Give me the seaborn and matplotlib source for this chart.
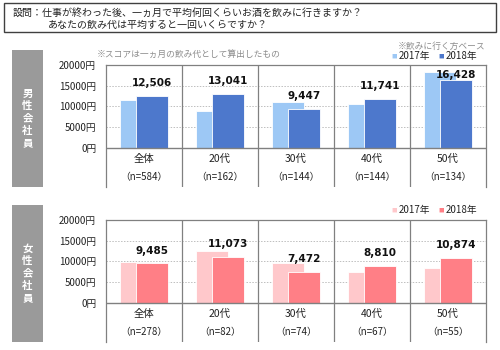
import matplotlib
matplotlib.use("Agg")
import matplotlib.pyplot as plt
import seaborn as sns
import pandas as pd
import numpy as np
from matplotlib.patches import Rectangle

sns.set_theme(style="white")
plt.rcParams['font.family'] = ['Noto Sans CJK JP', 'DejaVu Sans']

categories = ["全体", "20代", "30代", "40代", "50代"]
male_n = ["（n=584）", "（n=162）", "（n=144）", "（n=144）", "（n=134）"]
female_n = ["（n=278）", "（n=82）", "（n=74）", "（n=67）", "（n=55）"]
male_2017 = [11600, 8950, 11100, 10640, 18300]
male_2018 = [12506, 13041, 9447, 11741, 16428]
female_2017 = [9800, 12400, 9560, 7450, 8330]
female_2018 = [9485, 11073, 7472, 8810, 10874]
yticks = [0, 5000, 10000, 15000, 20000]
ytick_labels = ["0円", "5000円", "10000円", "15000円", "20000円"]

W, H = 500, 350
fig = plt.figure(figsize=(5, 3.5), dpi=100)

def fx(px):
    return px / W

def fy(py):
    return 1 - py / H

# Title box
fig.patches.append(Rectangle((fx(4), fy(32)), fx(492), 29 / H, transform=fig.transFigure,
                             fill=False, edgecolor="#404040", linewidth=1.0))
fig.text(fx(13), fy(13), "設問：仕事が終わった後、一ヵ月で平均何回くらいお酒を飲みに行きますか？",
         fontsize=7.2, va="center", ha="left", color="#222222")
fig.text(fx(48), fy(24.5), "あなたの飲み代は平均すると一回いくらですか？",
         fontsize=7.2, va="center", ha="left", color="#222222")

BAR_W = 0.42
OFF = 0.105


def panel(top_px, bottom_px, c17, c18, v17, v18, nlabels, side_label, legend_y):
    ax = fig.add_axes([fx(106), fy(bottom_px), fx(486) - fx(106), (bottom_px - top_px) / H])
    pos = np.arange(len(categories))
    df17 = pd.DataFrame({"x": pos - OFF, "v": v17})
    df18 = pd.DataFrame({"x": pos + OFF, "v": v18})
    sns.barplot(data=df17, x="x", y="v", native_scale=True, width=BAR_W, color=c17,
                saturation=1, edgecolor="white", linewidth=0.6, ax=ax, zorder=3)
    sns.barplot(data=df18, x="x", y="v", native_scale=True, width=BAR_W, color=c18,
                saturation=1, edgecolor="white", linewidth=0.6, ax=ax, zorder=4)
    ax.set_xlim(-0.5, 4.5)
    ax.set_ylim(-9500, 20000)
    ax.set_xlabel("")
    ax.set_ylabel("")
    ax.set_xticks([])
    ax.set_yticks(yticks)
    ax.set_yticklabels(ytick_labels, fontsize=7, color="#222222")
    ax.tick_params(axis="y", length=0, pad=7)
    for s in ["left", "right", "top"]:
        ax.spines[s].set_color("#808080")
        ax.spines[s].set_linewidth(0.9)
    ax.spines["bottom"].set_visible(False)
    for g in [5000, 10000, 15000]:
        ax.axhline(g, color="#BFBFBF", linestyle=(0, (1.5, 1.5)), linewidth=0.7, zorder=1)
    ax.axhline(0, color="#808080", linewidth=1.0, zorder=5)
    for xv in [0.5, 1.5, 2.5, 3.5]:
        ax.axvline(xv, color="#808080", linewidth=0.9, zorder=2)
    for i, v in enumerate(v18):
        ly = min(v + 3100, 17600)
        ax.text(i + OFF, ly, f"{v:,}", ha="center", va="center", fontsize=7.5,
                fontweight="bold", color="#111111", zorder=6, family="DejaVu Sans")
    for i, (c, n) in enumerate(zip(categories, nlabels)):
        ax.text(i, -2800, c, ha="center", va="center", fontsize=7.5, color="#222222")
        ax.text(i, -7100, n, ha="center", va="center", fontsize=7, color="#222222")
    # side label
    fig.patches.append(Rectangle((fx(12), fy(bottom_px)), fx(31), (bottom_px - top_px + 15) / H,
                                 transform=fig.transFigure, facecolor="#9A9A9A", edgecolor="none"))
    cy = (top_px - 15 + bottom_px) / 2
    for k, ch in enumerate(side_label):
        fig.text(fx(27.5), fy(cy + (k - 2) * 12.5), ch, ha="center", va="center",
                 fontsize=7.5, fontweight="bold", color="white")
    # legend
    fig.text(fx(394), fy(legend_y), "■", color=c17, fontsize=4, ha="center", va="center")
    fig.text(fx(399), fy(legend_y), "2017年", color="#222222", fontsize=7, ha="left", va="center")
    fig.text(fx(441), fy(legend_y), "■", color=c18, fontsize=4, ha="center", va="center")
    fig.text(fx(446), fy(legend_y), "2018年", color="#222222", fontsize=7, ha="left", va="center")
    return ax


panel(65, 187, "#9DC8F5", "#4D78CC", male_2017, male_2018, male_n, "男性会社員", 56)
panel(220, 342, "#FFC8CB", "#FF7F86", female_2017, female_2018, female_n, "女性会社員", 210)

fig.text(fx(97), fy(54), "※スコアは一ヵ月の飲み代として算出したもの", fontsize=6.3,
         color="#8C8C8C", ha="left", va="center")
fig.text(fx(485), fy(46), "※飲みに行く方ベース", fontsize=6.3,
         color="#8C8C8C", ha="right", va="center")

fig.savefig("out.png", dpi=100)
